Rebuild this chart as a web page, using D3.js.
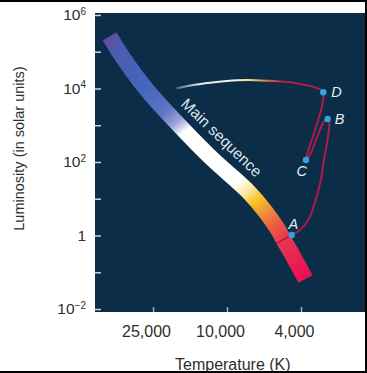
<!DOCTYPE html>
<html>
<head>
<meta charset="utf-8">
<script src="https://cdn.jsdelivr.net/npm/d3@7"></script>
<style>
  body { margin: 0; background: #fff; }
  svg { display: block; font-family: "Liberation Sans", Arial, sans-serif; }
</style>
</head>
<body>
<div id="chart"></div>
<script>
var svgWidth = 367;
var svgHeight = 373;

// axis extents (temperature runs hot -> cool)
var tempDomain = [51300, 1810];
var lumDomain = [0.0083, 1.13e6];
var tempTicks = [25000, 10000, 4000];
var lumTicks = [1e-2, 1e-1, 1, 1e1, 1e2, 1e3, 1e4, 1e5, 1e6];
var lumLabels = [1e-2, 1, 1e2, 1e4, 1e6];

// main sequence centre line
var msTemp = [42800, 36100, 26500, 18100, 12100, 7680, 6110, 5300, 4970, 4310, 3780];
var msLum = [2.6e5, 6.63e4, 8180, 1000, 126, 15.6, 4.02, 1.41, 0.778, 0.222, 0.0655];
var msBreak = 8;
var msLabelTemp = 10680;
var msLabelLum = 464;

// evolutionary track A -> B -> C -> D
var trackTemp = [4490, 4050, 3650, 3400, 3220, 3095, 3010, 2915, 2845, 2815, 2875,
  3010, 3135, 3270, 3400, 3545, 3760,
  3650, 3500, 3365, 3230, 3095, 3035, 3035];
var trackLum = [1.03, 1.41, 2.64, 6.76, 17.3, 44.3, 113, 272, 615, 1080, 1480,
  1250, 826, 488, 290, 172, 113,
  212, 397, 743, 1390, 2890, 5410, 7880];

// after D the star heads off to the left
var arcTemp = [3035, 3160, 3575, 4400, 6110, 7830, 10040, 12340, 15180, 18650];
var arcLum = [7880, 9510, 11700, 14400, 16300, 17000, 16000, 14400, 12450, 10100];

var stageNames = ["A", "B", "C", "D"];
var stageTemp = [4490, 2875, 3760, 3035];
var stageLum = [1.03, 1480, 113, 7880];

var margin = {top: 13, right: 2, bottom: 61, left: 95};
var plotLeft = margin.left, plotRight = svgWidth - margin.right;
var plotTop = margin.top, plotBottom = svgHeight - margin.bottom;

var svg = d3.select("#chart")
  .append("svg")
  .attr("width", svgWidth)
  .attr("height", svgHeight);

var xScale = d3.scaleLog().domain(tempDomain).range([plotLeft, plotRight]);
var yScale = d3.scaleLog().domain(lumDomain).range([plotBottom, plotTop]);

// dark panel
svg.append("rect")
  .attr("x", plotLeft).attr("y", plotTop)
  .attr("width", plotRight - plotLeft).attr("height", plotBottom - plotTop)
  .attr("fill", "#0b2d47");

// axes
var yAxis = svg.append("g")
  .attr("transform", `translate(${plotLeft},0)`)
  .call(d3.axisLeft(yScale).tickValues(lumTicks).tickSizeInner(-6).tickSizeOuter(0).tickPadding(9).tickFormat(""));
yAxis.select(".domain").remove();
yAxis.selectAll(".tick line").attr("stroke", "#c8d2dc").attr("stroke-width", 1.5);
yAxis.selectAll(".tick text").each(function(d) {
  var t = d3.select(this);
  if (lumLabels.indexOf(d) < 0) return;
  var e = Math.round(Math.log10(d));
  if (e === 0) { t.text("1"); return; }
  t.append("tspan").text("10");
  t.append("tspan").attr("dy", "-0.55em").attr("font-size", "10px")
    .text(e < 0 ? "\u2212" + (-e) : e);
});
yAxis.attr("font-size", 15.5).attr("font-family", null)
  .selectAll("text").attr("fill", "#2e2e2e");

var xAxis = svg.append("g")
  .attr("transform", `translate(0,${plotBottom})`)
  .call(d3.axisBottom(xScale).tickValues(tempTicks).tickSizeInner(-5).tickSizeOuter(0).tickPadding(14).tickFormat(d3.format(",")));
xAxis.select(".domain").remove();
xAxis.selectAll(".tick line").attr("stroke", "#9fb0c0").attr("stroke-width", 1.5);
xAxis.attr("font-size", 16).attr("font-family", null)
  .selectAll("text").attr("fill", "#2e2e2e").attr("x", -7);

// gradients
var defs = svg.append("defs");
var msPts = msTemp.map((t, i) => [xScale(t), yScale(msLum[i])]);
var msGrad = defs.append("linearGradient")
  .attr("id", "msGrad")
  .attr("gradientUnits", "userSpaceOnUse")
  .attr("x1", msPts[0][0]).attr("y1", msPts[0][1])
  .attr("x2", msPts[msPts.length - 1][0]).attr("y2", msPts[msPts.length - 1][1]);
[[0, "#5d4f9e"], [0.06, "#4a5db2"], [0.2, "#4466bd"], [0.3, "#5f74c6"], [0.35, "#9ea4dc"],
 [0.39, "#ffffff"], [0.62, "#ffffff"], [0.665, "#fbe6a0"], [0.705, "#f6c325"], [0.75, "#f1913a"],
 [0.81, "#ea5745"], [0.86, "#e63750"], [1, "#ea0e52"]].forEach(function(s) {
  msGrad.append("stop").attr("offset", s[0]).attr("stop-color", s[1]);
});

var arcPts = arcTemp.map((t, i) => [xScale(t), yScale(arcLum[i])]);
var arcGrad = defs.append("linearGradient")
  .attr("id", "arcGrad")
  .attr("gradientUnits", "userSpaceOnUse")
  .attr("x1", arcPts[arcPts.length - 1][0]).attr("y1", 0)
  .attr("x2", arcPts[0][0]).attr("y2", 0);
[[0, "#b8d0e8", 0.4], [0.15, "#dfe8f2", 1], [0.4, "#f2f2ee", 1], [0.5, "#eed98a", 1],
 [0.55, "#e6b845", 1], [0.63, "#d06a45", 1], [0.72, "#b42050", 1], [1, "#ad1a4a", 1]].forEach(function(s) {
  arcGrad.append("stop").attr("offset", s[0]).attr("stop-color", s[1]).attr("stop-opacity", s[2]);
});

var line = d3.line().curve(d3.curveCatmullRom.alpha(0.5));

// main sequence band
svg.append("path")
  .attr("d", line(msPts))
  .attr("fill", "none")
  .attr("stroke", "url(#msGrad)")
  .attr("stroke-width", 16);

// break between upper and lower main sequence
var pb = msPts[msBreak], pa = msPts[msBreak - 1], pc = msPts[msBreak + 1];
var tx = pc[0] - pa[0], ty = pc[1] - pa[1], tl = Math.hypot(tx, ty);
var nx = ty / tl, ny = -tx / tl;
svg.append("line")
  .attr("x1", pb[0] - nx * 8.5).attr("y1", pb[1] - ny * 8.5)
  .attr("x2", pb[0] + nx * 8.5).attr("y2", pb[1] + ny * 8.5)
  .attr("stroke", "#a3173f").attr("stroke-width", 1.3);

// track
var trackPts = trackTemp.map((t, i) => [xScale(t), yScale(trackLum[i])]);
svg.append("path")
  .attr("d", line(trackPts))
  .attr("fill", "none")
  .attr("stroke", "#ad1a4a")
  .attr("stroke-width", 2);

svg.append("path")
  .attr("d", line(arcPts))
  .attr("fill", "none")
  .attr("stroke", "url(#arcGrad)")
  .attr("stroke-width", 2);

// stage markers
var stageOffset = {A: [1.6, -6.4, "middle"], B: [7, 5.3, "start"], C: [-4.3, 16.3, "middle"], D: [8, 5, "start"]};
svg.selectAll(".stage")
  .data(stageNames)
  .enter()
  .append("circle")
  .attr("class", "stage")
  .attr("cx", (d, i) => xScale(stageTemp[i]))
  .attr("cy", (d, i) => yScale(stageLum[i]))
  .attr("r", 3.2)
  .attr("fill", "#2fa6e0");

svg.selectAll(".stageLabel")
  .data(stageNames)
  .enter()
  .append("text")
  .attr("class", "stageLabel")
  .attr("x", (d, i) => xScale(stageTemp[i]) + stageOffset[d][0])
  .attr("y", (d, i) => yScale(stageLum[i]) + stageOffset[d][1])
  .attr("text-anchor", d => stageOffset[d][2])
  .attr("font-size", 14.5)
  .attr("font-style", "italic")
  .attr("fill", "#e6edf3")
  .text(d => d);

svg.append("text")
  .attr("transform", `translate(${xScale(msLabelTemp)},${yScale(msLabelLum)}) rotate(44)`)
  .attr("text-anchor", "middle")
  .attr("dy", "0.35em")
  .attr("font-size", 15.5)
  .attr("fill", "#dde4ea")
  .text("Main sequence");

// axis titles
svg.append("text")
  .attr("transform", `translate(24,${(plotTop + plotBottom) / 2 - 14}) rotate(-90)`)
  .attr("text-anchor", "middle")
  .attr("font-size", 14.5)
  .attr("fill", "#2e2e2e")
  .text("Luminosity (in solar units)");

svg.append("text")
  .attr("x", 232.8)
  .attr("y", 369.5)
  .attr("text-anchor", "middle")
  .attr("font-size", 16)
  .attr("fill", "#2e2e2e")
  .text("Temperature (K)");

// frame
svg.append("line").attr("x1", 0).attr("x2", svgWidth).attr("y1", 1).attr("y2", 1)
  .attr("stroke", "#000").attr("stroke-width", 2);
svg.append("line").attr("x1", 366).attr("x2", 366).attr("y1", 0).attr("y2", svgHeight)
  .attr("stroke", "#000").attr("stroke-width", 2);
svg.append("line").attr("x1", 0).attr("x2", svgWidth).attr("y1", 372).attr("y2", 372)
  .attr("stroke", "#000").attr("stroke-width", 2);
</script>
</body>
</html>
